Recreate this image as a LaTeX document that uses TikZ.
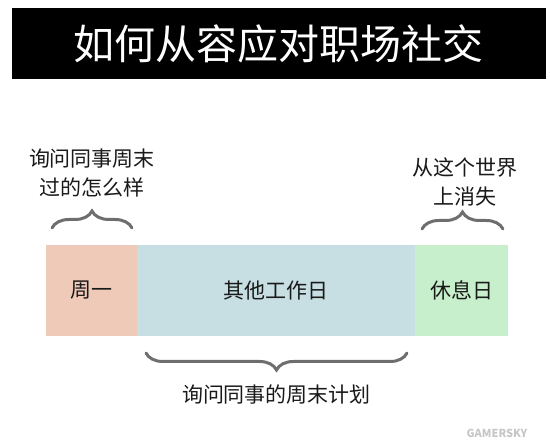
\documentclass[tikz,border=0pt]{standalone}
\usepackage{fontspec}
\setmainfont{Noto Sans CJK SC}
\usetikzlibrary{positioning,decorations.pathreplacing}
\definecolor{mondaypink}{HTML}{EFCAB9}
\definecolor{workblue}{HTML}{C7DEE3}
\definecolor{restgreen}{HTML}{C8EFCC}
\definecolor{bracegray}{HTML}{6E6E6E}
\begin{document}
\begin{tikzpicture}[
    x=1pt, y=-1pt,
    every node/.style={font=\fontsize{21}{29}\selectfont, text=black!90},
    daybox/.style={rectangle, draw=none, minimum height=91pt,
        inner sep=0pt, outer sep=0pt},
    curly/.style={decorate, draw=bracegray, line width=3pt, line cap=round,
        decoration={brace, amplitude=17pt}},
    note/.style={align=center}
]
\useasboundingbox (0,0) rectangle (550,443);
\node[fill=black, minimum width=534pt, minimum height=71pt, inner sep=0pt,
    font=\fontsize{41}{41}\selectfont, text=white]
    (title) at (279,43.5) {如何从容应对职场社交};
\node[daybox, fill=mondaypink, minimum width=91pt, anchor=north west]
    (mon) at (46,245) {周一};
\node[daybox, fill=workblue, minimum width=278pt, right=0pt of mon]
    (work) {其他工作日};
\node[daybox, fill=restgreen, minimum width=93pt, right=0pt of work]
    (rest) {休息日};
\draw[curly] ([xshift=6pt,yshift=17pt]mon.north west)
    -- coordinate[yshift=24pt] (montip) ([xshift=-5pt,yshift=17pt]mon.north east);
\draw[curly] ([xshift=7pt,yshift=16pt]rest.north west)
    -- coordinate[yshift=24pt] (resttip) ([xshift=-5pt,yshift=16pt]rest.north east);
\draw[curly] ([xshift=-8pt,yshift=-17pt]work.south east)
    -- coordinate[yshift=-24pt] (worktip) ([xshift=9pt,yshift=-17pt]work.south west);
\node[note, anchor=south] (monnote) at ([yshift=3pt]montip) {询问同事周末\\过的怎么样};
\node[note, anchor=south] (restnote) at ([xshift=2pt,yshift=-5pt]resttip)
    {从这个世界\\上消失};
\node[anchor=north] (worknote) at ([yshift=-4pt]worktip) {询问同事的周末计划};
\node[font=\fontsize{11}{11}\selectfont\bfseries\itshape, text=gray!45]
    (mark) at (497,433) {GAMERSKY};
\end{tikzpicture}
\end{document}
